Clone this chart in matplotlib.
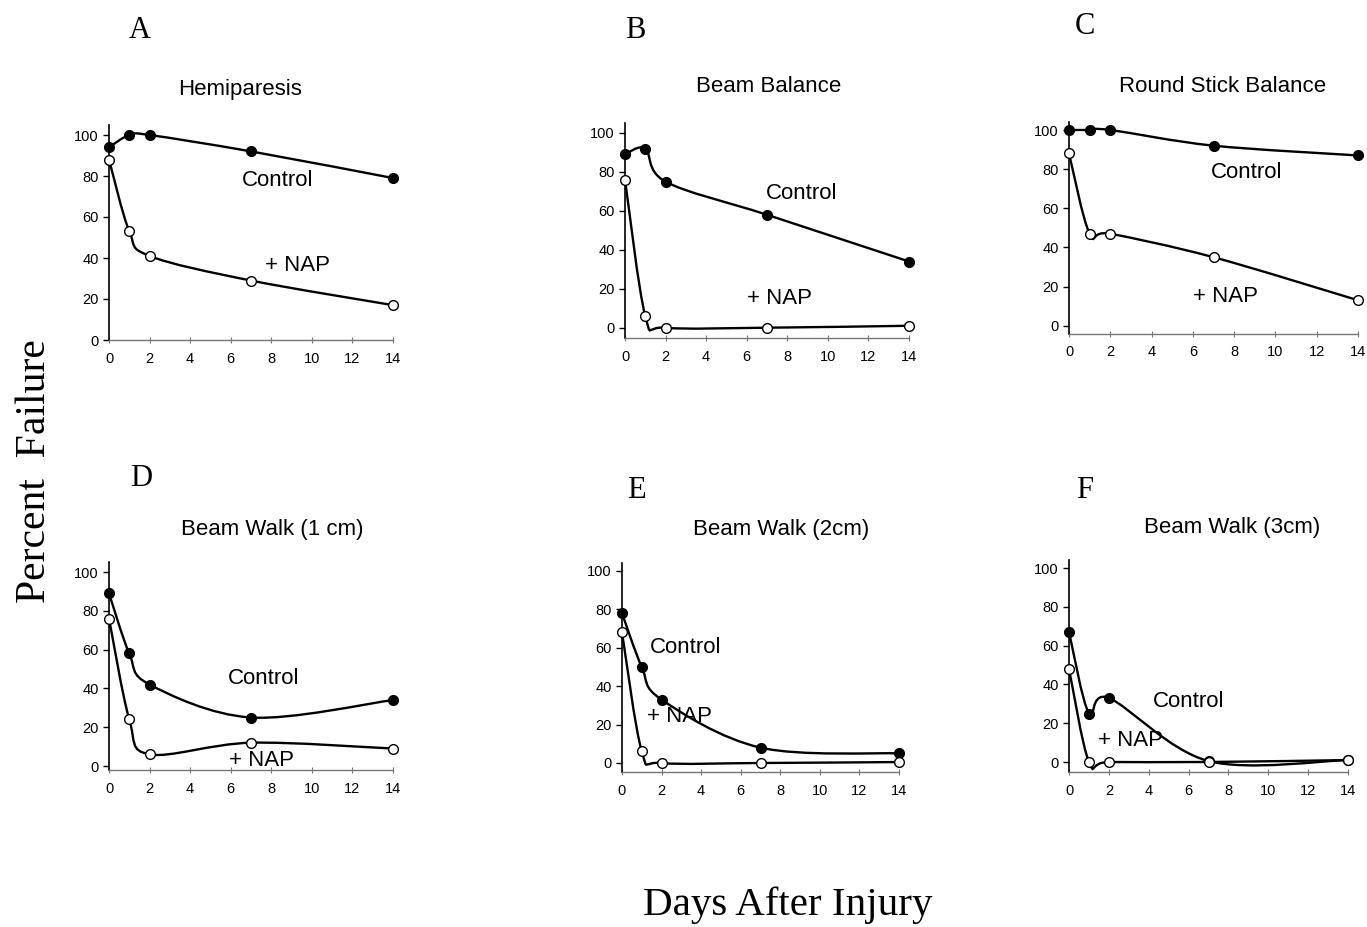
import matplotlib
matplotlib.use("Agg")
import matplotlib.pyplot as plt
from matplotlib.path import Path
from matplotlib.patches import PathPatch

plt.rcParams['font.family'] = ['Liberation Sans', 'DejaVu Sans']

# ---- data ----
days = [0, 1, 2, 7, 14]

hemi_ctrl = [94, 100, 100, 92, 79]
hemi_nap = [88, 53, 41, 29, 17]

beam_bal_ctrl = [89, 92, 75, 58, 34]
beam_bal_nap = [76, 6, 0, 0, 1]

stick_ctrl = [100, 100, 100, 92, 87]
stick_nap = [88, 47, 47, 35, 13]

walk1_ctrl = [89, 58, 42, 25, 34]
walk1_nap = [76, 24, 6, 12, 9]

walk2_ctrl = [78, 50, 33, 8, 5]
walk2_nap = [68, 6, 0, 0, 0.5]

walk3_ctrl = [67, 25, 33, 0.5, 1]
walk3_nap = [48, 0, 0, 0, 1]

letters = ["A", "B", "C", "D", "E", "F"]
titles = ["Hemiparesis", "Beam Balance", "Round Stick Balance",
          "Beam Walk (1 cm)", "Beam Walk (2cm)", "Beam Walk (3cm)"]

W, H = 1367, 927
fig = plt.figure(figsize=(W / 100, H / 100), dpi=100)


def smooth_path(xs, ys):
    # excel-style smoothed line (bezier through the points)
    pts = list(zip(xs, ys))
    n = len(pts)
    verts = [pts[0]]
    codes = [Path.MOVETO]
    for i in range(n - 1):
        p0 = pts[i - 1] if i > 0 else pts[i]
        p1 = pts[i]
        p2 = pts[i + 1]
        p3 = pts[i + 2] if i + 2 < n else pts[i + 1]
        c1 = (p1[0] + (p2[0] - p0[0]) / 6, p1[1] + (p2[1] - p0[1]) / 6)
        c2 = (p2[0] - (p3[0] - p1[0]) / 6, p2[1] - (p3[1] - p1[1]) / 6)
        verts += [c1, c2, p2]
        codes += [Path.CURVE4] * 3
    return Path(verts, codes)


def make_axes(x0, x14, y0, y100, ylo, yhi):
    sy = (y0 - y100) / 100
    bottom = y0 - ylo * sy
    top = y100 - (yhi - 100) * sy
    ax = fig.add_axes([x0 / W, 1 - bottom / H, (x14 - x0) / W, (bottom - top) / H])
    ax.set_xlim(0, 14)
    ax.set_ylim(ylo, yhi)
    return ax


panels = [
    # pixel geometry, data, text spots
    ((109, 393, 340, 135, 0, 105), hemi_ctrl, hemi_nap, (8.3, 78), (9.3, 36.5)),
    ((625, 909, 327.7, 133, -5.5, 105), beam_bal_ctrl, beam_bal_nap, (8.7, 69), (7.6, 15)),
    ((1069, 1358, 325.7, 130, -4, 104), stick_ctrl, stick_nap, (8.6, 78.5), (7.6, 15)),
    ((109, 393, 766, 572, -2, 105), walk1_ctrl, walk1_nap, (7.6, 45), (7.5, 3)),
    ((622, 899, 763, 571, -4.7, 104), walk2_ctrl, walk2_nap, (3.2, 60), (2.9, 24)),
    ((1069, 1348, 762, 568, -5, 104), walk3_ctrl, walk3_nap, (6.0, 31), (3.1, 11)),
]

for geo, ctrl, nap, ctrl_xy, nap_xy in panels:
    ax = make_axes(*geo)
    for ys, face in [(ctrl, "black"), (nap, "white")]:
        patch = PathPatch(smooth_path(days, ys), fill=False, lw=1.7,
                          edgecolor="black", clip_on=False, zorder=2)
        ax.add_patch(patch)
        ax.plot(days, ys, "o", ms=7, mfc=face, mec="black", mew=1.0,
                clip_on=False, zorder=3)
    ax.text(*ctrl_xy, "Control", ha="center", va="center", fontsize=16)
    ax.text(*nap_xy, "+ NAP", ha="center", va="center", fontsize=16)

    ax.set_xticks(range(0, 15, 2))
    ax.set_yticks(range(0, 101, 20))
    ax.tick_params(axis="both", labelsize=10.5, colors="black")
    ax.tick_params(axis="y", direction="out", length=4, width=1)
    ax.tick_params(axis="x", direction="inout", length=5, width=0.8, color="#777777", pad=6)
    ax.spines["top"].set_visible(False)
    ax.spines["right"].set_visible(False)
    ax.spines["left"].set_linewidth(1.2)
    ax.spines["bottom"].set_linewidth(1.0)
    ax.spines["bottom"].set_color("#777777")
    ax.patch.set_alpha(0)

# panel letters and titles (pixel positions)
letter_pos = [(140, 31), (635, 31), (1085, 26), (141, 478), (636, 491), (1085, 490)]
title_pos = [(240, 89), (769, 86), (1223, 86), (272, 530), (781, 530), (1232, 527)]
for lab, (lx, ly) in zip(letters, letter_pos):
    fig.text(lx / W, 1 - ly / H, lab, ha="center", va="center",
             fontsize=22, family="Liberation Serif")
for t, (tx, ty) in zip(titles, title_pos):
    fig.text(tx / W, 1 - ty / H, t, ha="center", va="center", fontsize=16)

fig.text(35 / W, 1 - 471 / H, "Percent  Failure", rotation=90, ha="center",
         va="center", fontsize=30, family="Liberation Serif")
fig.text(788 / W, 1 - 905 / H, "Days After Injury", ha="center", va="center",
         fontsize=29.5, family="Liberation Serif")

plt.savefig("out.png", dpi=100)
